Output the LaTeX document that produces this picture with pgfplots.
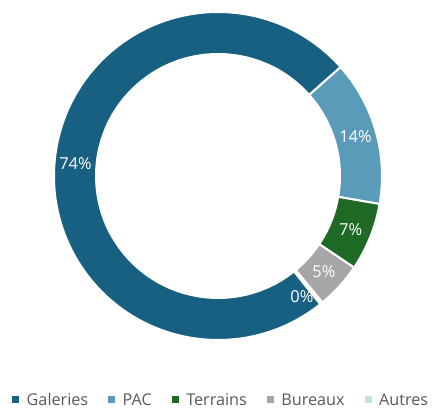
\documentclass[border=0pt]{standalone}
\usepackage{pgfplots}
\usepackage{pgfplotstable}
\usepackage{fontspec}
\setmainfont{Open Sans}
\pgfplotsset{compat=1.18}
\definecolor{cGal}{RGB}{24,96,130}
\definecolor{cPAC}{RGB}{91,155,186}
\definecolor{cTer}{RGB}{30,106,36}
\definecolor{cBur}{RGB}{166,166,166}
\definecolor{cAut}{RGB}{189,233,198}
\definecolor{legtext}{RGB}{89,89,89}

\pgfplotstableread{
label value
Galeries 74.2
PAC 14.3
Terrains 6.7
Bureaux 4.6
Autres 0.25
}\donutdata

% centre (cx,cy), outer radius, inner radius, label radius (axis units = pt)
\def\cx{218}\def\cy{233}\def\Ro{164}\def\Ri{122}\def\Rl{143}
\newcommand\sector[3]{%
  \fill[#1, draw=white, line width=2pt, line join=miter]
    (axis cs:{\cx+\Ro*cos(#2)},{\cy+\Ro*sin(#2)})
    arc[start angle=#2, end angle=#3, radius=\Ro pt]
    -- (axis cs:{\cx+\Ri*cos(#3)},{\cy+\Ri*sin(#3)})
    arc[start angle=#3, end angle=#2, radius=\Ri pt] -- cycle;}
\newcommand\seglabel[3]{%
  \node[text=white, font=\fontsize{16.5}{19}\selectfont, inner sep=0pt]
    at (axis cs:{\cx+\Rl*cos((#1+#2)/2)},{\cy+\Rl*sin((#1+#2)/2)}) {#3};}

\begin{document}
\begin{tikzpicture}
\pgfplotstablegetelem{0}{value}\of\donutdata \let\vA\pgfplotsretval
\pgfplotstablegetelem{1}{value}\of\donutdata \let\vB\pgfplotsretval
\pgfplotstablegetelem{2}{value}\of\donutdata \let\vC\pgfplotsretval
\pgfplotstablegetelem{3}{value}\of\donutdata \let\vD\pgfplotsretval
\pgfplotstablegetelem{4}{value}\of\donutdata \let\vE\pgfplotsretval
\pgfmathsetmacro{\tot}{\vA+\vB+\vC+\vD+\vE}
\pgfmathsetmacro{\aA}{90-141.4}
\pgfmathsetmacro{\aB}{\aA-\vA/\tot*360}
\pgfmathsetmacro{\aC}{\aB-\vB/\tot*360}
\pgfmathsetmacro{\aD}{\aC-\vC/\tot*360}
\pgfmathsetmacro{\aE}{\aD-\vD/\tot*360}
\pgfmathsetmacro{\aF}{\aE-\vE/\tot*360}
\begin{axis}[
  x=1pt, y=1pt, xmin=0, xmax=436, ymin=0, ymax=409,
  hide axis, clip=false,
  legend columns=5,
  legend image code/.code={\fill[#1] (0pt,-3.5pt) rectangle (7pt,3.5pt);},
  legend style={at={(axis cs:12,9)}, anchor=west, draw=none, fill=none,
    inner sep=0pt, font=\fontsize{16.2}{19}\selectfont, text=legtext,
    nodes={inner sep=0pt},
    /tikz/every odd column/.style={column sep=7.5pt},
    /tikz/every even column/.style={column sep=20pt}},
]
\coordinate (BL) at (axis cs:0,0);
\coordinate (TR) at (axis cs:436,409);
\sector{cGal}{\aA}{\aB}
\sector{cPAC}{\aB}{\aC}
\sector{cTer}{\aC}{\aD}
\sector{cBur}{\aD}{\aE}
\sector{cAut}{\aE}{\aF}
\seglabel{\aA}{\aB}{74\%}
\seglabel{\aB}{\aC}{14\%}
\seglabel{\aC}{\aD}{7\%}
\seglabel{\aD}{\aE}{5\%}
\node[text=white, font=\fontsize{16.5}{19}\selectfont, inner sep=0pt] at (axis cs:302,112) {0\%};
\addlegendimage{fill=cGal, draw=none}\addlegendentry{Galeries}
\addlegendimage{fill=cPAC, draw=none}\addlegendentry{PAC}
\addlegendimage{fill=cTer, draw=none}\addlegendentry{Terrains}
\addlegendimage{fill=cBur, draw=none}\addlegendentry{Bureaux}
\addlegendimage{fill=cAut, draw=none}\addlegendentry{Autres}
\end{axis}
\pgfresetboundingbox
\path[use as bounding box] (BL) rectangle (TR);
\end{tikzpicture}
\end{document}
